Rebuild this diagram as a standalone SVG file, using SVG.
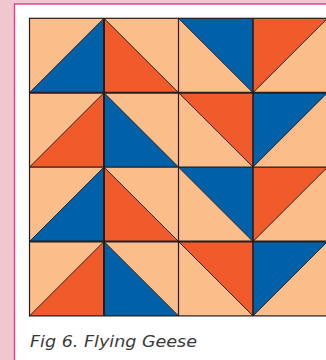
<svg xmlns="http://www.w3.org/2000/svg" width="326" height="360" viewBox="0 0 326 360">
<style>
.p{fill:#fbbd8a}
.b{fill:#0061a8}
.o{fill:#f15a2b}
.d{fill:none;stroke:#2a2324;stroke-width:1}
.g{stroke:#231f20;fill:none}
.cap{font-family:"DejaVu Sans","Liberation Sans",sans-serif;font-style:italic;font-size:16px;fill:#3a3a3a}
</style>
<rect x="0" y="0" width="326" height="360" fill="#f0c6d0"/>
<rect x="14.5" y="4" width="320" height="370" fill="#ffffff" stroke="#e0468a" stroke-width="1.5"/>
<g id="quilt">
<g id="r1c1"><rect class="p" x="29.5" y="18.3" width="74.5" height="74.4"/><polygon class="b" points="29.5,92.7 104,18.3 104,92.7"/><line class="d" x1="29.5" y1="92.7" x2="104" y2="18.3"/></g>
<g id="r1c2"><rect class="p" x="104" y="18.3" width="74.5" height="74.4"/><polygon class="o" points="104,18.3 178.5,92.7 104,92.7"/><line class="d" x1="104" y1="18.3" x2="178.5" y2="92.7"/></g>
<g id="r1c3"><rect class="p" x="178.5" y="18.3" width="74.5" height="74.4"/><polygon class="b" points="178.5,18.3 253,18.3 253,92.7"/><line class="d" x1="178.5" y1="18.3" x2="253" y2="92.7"/></g>
<g id="r1c4"><rect class="p" x="253" y="18.3" width="74.5" height="74.4"/><polygon class="o" points="253,18.3 327.5,18.3 253,92.7"/><line class="d" x1="253" y1="92.7" x2="327.5" y2="18.3"/></g>

<g id="r2c1"><rect class="p" x="29.5" y="92.7" width="74.5" height="74.4"/><polygon class="o" points="29.5,167.1 104,92.7 104,167.1"/><line class="d" x1="29.5" y1="167.1" x2="104" y2="92.7"/></g>
<g id="r2c2"><rect class="p" x="104" y="92.7" width="74.5" height="74.4"/><polygon class="b" points="104,92.7 178.5,167.1 104,167.1"/><line class="d" x1="104" y1="92.7" x2="178.5" y2="167.1"/></g>
<g id="r2c3"><rect class="p" x="178.5" y="92.7" width="74.5" height="74.4"/><polygon class="o" points="178.5,92.7 253,92.7 253,167.1"/><line class="d" x1="178.5" y1="92.7" x2="253" y2="167.1"/></g>
<g id="r2c4"><rect class="p" x="253" y="92.7" width="74.5" height="74.4"/><polygon class="b" points="253,92.7 327.5,92.7 253,167.1"/><line class="d" x1="253" y1="167.1" x2="327.5" y2="92.7"/></g>

<g id="r3c1"><rect class="p" x="29.5" y="167.1" width="74.5" height="74.4"/><polygon class="b" points="29.5,241.5 104,167.1 104,241.5"/><line class="d" x1="29.5" y1="241.5" x2="104" y2="167.1"/></g>
<g id="r3c2"><rect class="p" x="104" y="167.1" width="74.5" height="74.4"/><polygon class="o" points="104,167.1 178.5,241.5 104,241.5"/><line class="d" x1="104" y1="167.1" x2="178.5" y2="241.5"/></g>
<g id="r3c3"><rect class="p" x="178.5" y="167.1" width="74.5" height="74.4"/><polygon class="b" points="178.5,167.1 253,167.1 253,241.5"/><line class="d" x1="178.5" y1="167.1" x2="253" y2="241.5"/></g>
<g id="r3c4"><rect class="p" x="253" y="167.1" width="74.5" height="74.4"/><polygon class="o" points="253,167.1 327.5,167.1 253,241.5"/><line class="d" x1="253" y1="241.5" x2="327.5" y2="167.1"/></g>

<g id="r4c1"><rect class="p" x="29.5" y="241.5" width="74.5" height="74.4"/><polygon class="o" points="29.5,315.9 104,241.5 104,315.9"/><line class="d" x1="29.5" y1="315.9" x2="104" y2="241.5"/></g>
<g id="r4c2"><rect class="p" x="104" y="241.5" width="74.5" height="74.4"/><polygon class="b" points="104,241.5 178.5,315.9 104,315.9"/><line class="d" x1="104" y1="241.5" x2="178.5" y2="315.9"/></g>
<g id="r4c3"><rect class="p" x="178.5" y="241.5" width="74.5" height="74.4"/><polygon class="o" points="178.5,241.5 253,241.5 253,315.9"/><line class="d" x1="178.5" y1="241.5" x2="253" y2="315.9"/></g>
<g id="r4c4"><rect class="p" x="253" y="241.5" width="74.5" height="74.4"/><polygon class="b" points="253,241.5 327.5,241.5 253,315.9"/><line class="d" x1="253" y1="315.9" x2="327.5" y2="241.5"/></g>
</g>
<g id="grid-lines" class="g">
<rect x="29.5" y="18.3" width="298" height="297.6" stroke-width="1.2"/>
<line x1="104" y1="18.3" x2="104" y2="315.9" stroke-width="2"/>
<line x1="178.5" y1="18.3" x2="178.5" y2="315.9" stroke-width="1.2"/>
<line x1="253" y1="18.3" x2="253" y2="315.9" stroke-width="1.6"/>
<line x1="29.5" y1="92.7" x2="327.5" y2="92.7" stroke-width="2"/>
<line x1="29.5" y1="167.1" x2="327.5" y2="167.1" stroke-width="1.2"/>
<line x1="29.5" y1="241.5" x2="327.5" y2="241.5" stroke-width="2"/>
</g>
<text class="cap" x="30" y="346.5" textLength="167" lengthAdjust="spacingAndGlyphs">Fig 6. Flying Geese</text>
</svg>
